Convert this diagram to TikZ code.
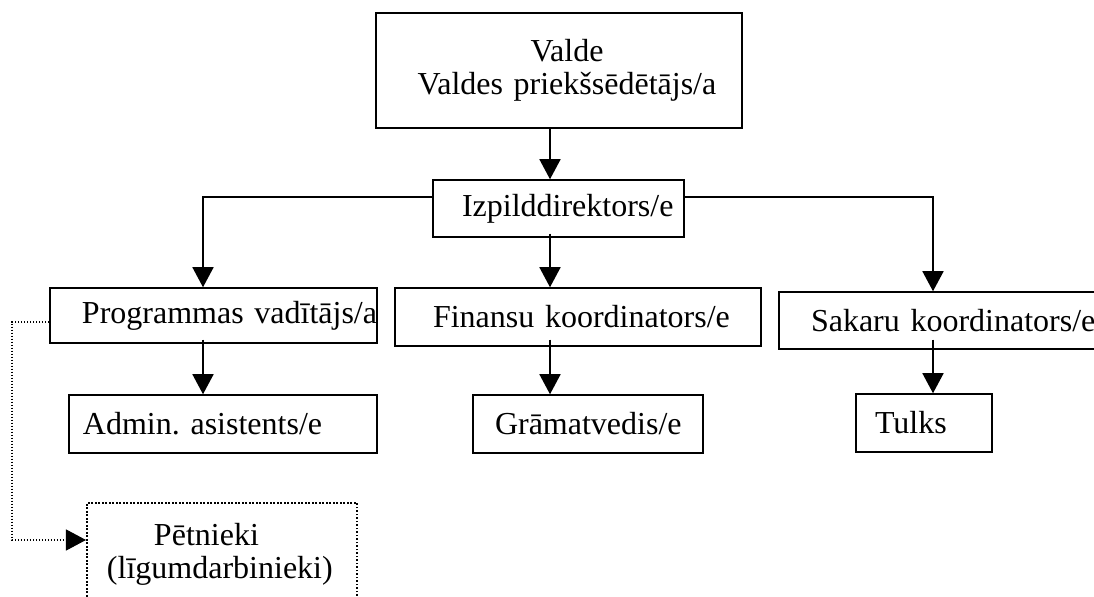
\documentclass[tikz,border=0pt]{standalone}
\usepackage{fontspec}
\setmainfont{Liberation Serif}
\usetikzlibrary{calc,positioning,arrows.meta}
\frenchspacing

\begin{document}
\begin{tikzpicture}[x=0.4pt, y=-0.4pt,
        orgbox/.style={draw=black, line width=0.6pt, fill=white, inner xsep=0pt, inner ysep=0pt,
              align=left, font=\fontsize{12.8}{13.4}\selectfont},
        dotbox/.style={line width=0.8pt, dash pattern=on 0.7pt off 0.7pt},
        orgarrow/.style={line width=0.6pt, -{Triangle[length=8pt,width=8.4pt]}},
        dotarrow/.style={line width=0.45pt, dash pattern=on 0.6pt off 0.6pt, -{Triangle[length=8pt,width=8.4pt]}}]
        \useasboundingbox (0,0) rectangle (1094,597);
        \clip (0,0) rectangle (1094,597);

        \node[orgbox, align=center, text width=146.4pt, minimum height=46pt] (valde) at (559,70.5)
              {\hspace*{6.4pt}Valde\\\hspace*{6.4pt}\mbox{Valdes priekšsēdētājs/a}};
        \node[orgbox, text width=100.4pt, minimum height=22.8pt] (izp) at (558.5,208.5)
              {\hspace*{11.6pt}Izpilddirektors/e};
        \node[orgbox, text width=130.8pt, minimum height=22pt] (prog) at (213.5,315.5)
              {\hspace*{12.8pt}\mbox{Programmas vadītājs/a}};
        \node[orgbox, text width=146.4pt, minimum height=23.2pt] (fin) at (578,317)
              {\hspace*{15.2pt}\mbox{Finansu koordinators/e}};
        \node[orgbox, text width=128.4pt, minimum height=22.8pt] (sak) at (939.5,320.5)
              {\hspace*{12.8pt}\mbox{Sakaru koordinators/e}};
        \node[orgbox, text width=123.2pt, minimum height=23.2pt] (admin) at (223,424)
              {\hspace*{5.6pt}\mbox{Admin. asistents/e}};
        \node[orgbox, text width=92pt, minimum height=23.2pt] (gram) at (588,424)
              {\hspace*{8.8pt}Grāmatvedis/e};
        \node[orgbox, text width=54.4pt, minimum height=23.2pt] (tulks) at (924,423)
              {\hspace*{7.6pt}Tulks};
        \node[orgbox, dotbox, text width=108pt, minimum height=41.2pt] (pet) at (222,554.5)
              {\hspace*{26.8pt}Pētnieki\\\hspace*{8pt}(līgumdarbinieki)};

        \coordinate (colL) at (203,0);
        \coordinate (colM) at (550,0);
        \coordinate (colR) at (933,0);
        \coordinate (lbr) at (203,197);
        \coordinate (rbr) at (933,197);
        \coordinate (dtop) at (12,322);
        \coordinate (dbot) at (12,540);

        \draw[orgarrow] (valde.south -| colM) -- (izp.north -| colM);
        \draw[orgarrow] (lbr -| izp.west) -- (lbr) -- (prog.north -| colL);
        \draw[orgarrow] (rbr -| izp.east) -- (rbr) -- (sak.north -| colR);
        \draw[orgarrow, shorten <=-1.6pt] (izp.south -| colM) -- (fin.north -| colM);
        \draw[orgarrow, shorten <=-1.6pt] (prog.south -| colL) -- (admin.north -| colL);
        \draw[orgarrow, shorten <=-2.8pt] (fin.south -| colM) -- (gram.north -| colM);
        \draw[orgarrow, shorten <=-4pt] (sak.south -| colR) -- (tulks.north -| colR);
        \draw[dotarrow] (dtop -| prog.west) -- (dtop) -- (dbot) -- (dbot -| pet.west);
\end{tikzpicture}
\end{document}
